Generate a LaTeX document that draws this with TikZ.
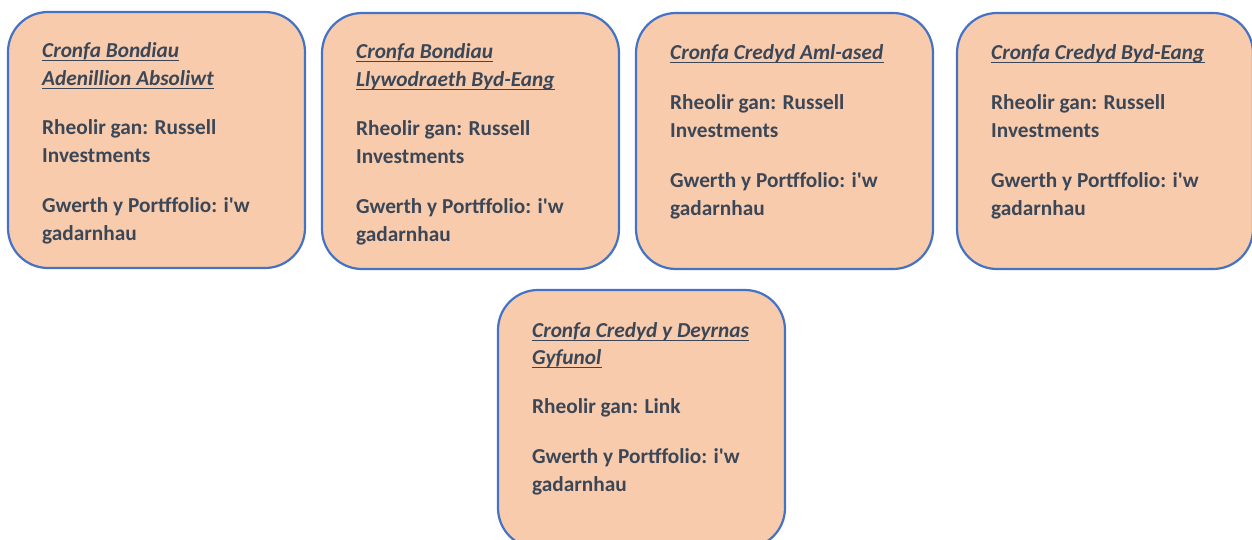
\documentclass[tikz,border=0pt]{standalone}
\usepackage{fontspec}
\setmainfont{Carlito}
\definecolor{cardfill}{HTML}{F8CBAD}
\definecolor{cardborder}{HTML}{4472C4}
\definecolor{txtcol}{HTML}{3B4757}
\tikzset{
  card/.style={draw=cardborder, fill=cardfill, line width=2.2pt, rounded corners=40pt},
  txt/.style={anchor=base west, inner sep=0pt, text=txtcol, font=\bfseries\fontsize{21.3}{26}\selectfont},
  ttl/.style={txt, font=\bfseries\itshape\fontsize{21.3}{26}\selectfont},
  uline/.style={draw=txtcol, line width=1.4pt}
}
\newcommand\ttlline[4]{%
  \node[ttl] (#1) at (#2,#3) {#4};
  \draw[uline] ([yshift=-3.2pt]#1.base west) -- ([yshift=-3.2pt]#1.base east);}
\newcommand\iw{i\textquotesingle w}
\begin{document}
\begin{tikzpicture}[x=1pt,y=1pt]
\clip (0,0) rectangle (1252,-539);
% cards
\draw[card] (8,-12) rectangle (305,-268);
\draw[card] (322,-13) rectangle (619,-269);
\draw[card] (636,-13) rectangle (933,-269);
\draw[card] (957,-13) rectangle (1253,-269);
\draw[card] (498,-290) rectangle (785,-548);
% card 1
\ttlline{a1}{42}{-57}{Cronfa Bondiau}
\ttlline{a2}{42}{-85}{Adenillion Absoliwt}
\node[txt] (a3) at (42,-134) {Rheolir gan: Russell};
\node[txt] (a4) at (42,-162) {Investments};
\node[txt] (a5) at (42,-212) {Gwerth y Portffolio: \iw};
\node[txt] (a6) at (42,-240) {gadarnhau};
% card 2
\ttlline{b1}{356}{-58}{Cronfa Bondiau}
\ttlline{b2}{356}{-86}{Llywodraeth Byd-Eang}
\node[txt] (b3) at (356,-135) {Rheolir gan: Russell};
\node[txt] (b4) at (356,-163) {Investments};
\node[txt] (b5) at (356,-213) {Gwerth y Portffolio: \iw};
\node[txt] (b6) at (356,-241) {gadarnhau};
% card 3
\ttlline{c1}{670}{-59}{Cronfa Credyd Aml-ased}
\node[txt] (c3) at (670,-109) {Rheolir gan: Russell};
\node[txt] (c4) at (670,-137) {Investments};
\node[txt] (c5) at (670,-187) {Gwerth y Portffolio: \iw};
\node[txt] (c6) at (670,-215) {gadarnhau};
% card 4
\ttlline{d1}{991}{-59}{Cronfa Credyd Byd-Eang}
\node[txt] (d3) at (991,-109) {Rheolir gan: Russell};
\node[txt] (d4) at (991,-137) {Investments};
\node[txt] (d5) at (991,-187) {Gwerth y Portffolio: \iw};
\node[txt] (d6) at (991,-215) {gadarnhau};
% card 5
\ttlline{e1}{532}{-337}{Cronfa Credyd y Deyrnas}
\ttlline{e2}{532}{-364}{Gyfunol}
\node[txt] (e3) at (532,-413) {Rheolir gan: Link};
\node[txt] (e5) at (532,-463) {Gwerth y Portffolio: \iw};
\node[txt] (e6) at (532,-491) {gadarnhau};
\end{tikzpicture}
\end{document}
